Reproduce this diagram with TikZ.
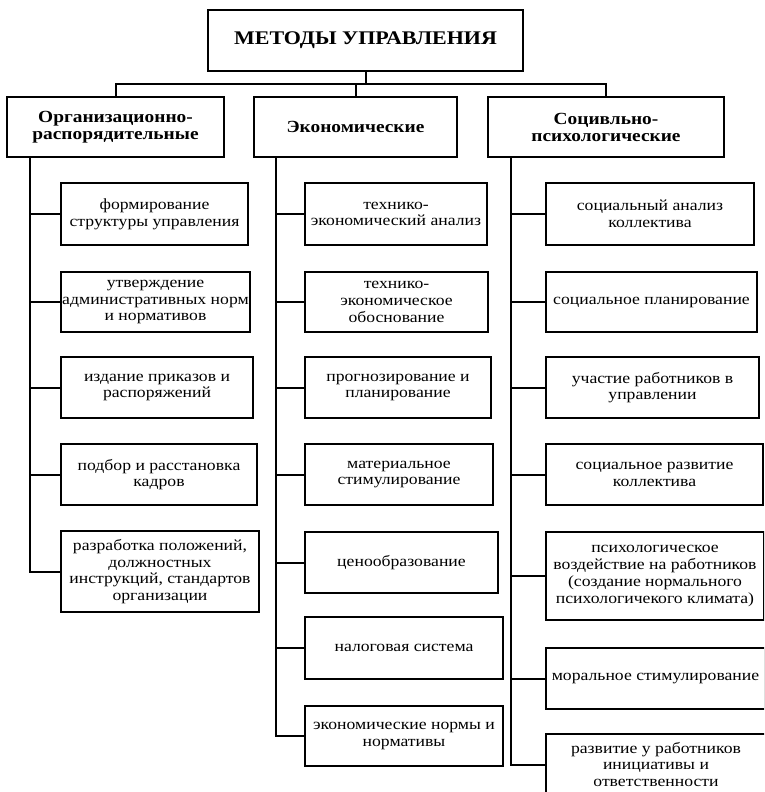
\documentclass[tikz,border=0pt]{standalone}
\usepackage{fontspec}
\setmainfont[FakeStretch=1.14]{Liberation Serif}
\begin{document}
\begin{tikzpicture}[x=1pt,y=-1pt,
  box/.style={draw=black,line width=2pt,rectangle,inner sep=0pt,align=center,
    font=\fontsize{15.5}{16.7}\selectfont},
  headbox/.style={box,font=\fontsize{17}{17}\selectfont\bfseries},
  titlebox/.style={box,font=\fontsize{19.3}{20}\selectfont\bfseries},
  link/.style={draw=black,line width=2pt},
  bw/.style 2 args={minimum width=#1,minimum height=#2}]
\useasboundingbox (0,0) rectangle (764,792);
\clip (0,0) rectangle (764,792);
\fill[white] (0,0) rectangle (764,792);

% top
\node[titlebox,bw={315}{61}] (T) at (365.5,40.5) {МЕТОДЫ УПРАВЛЕНИЯ};
% level 2
\node[headbox,bw={217}{60}] (L) at (115.5,127) {Организационно-\\распорядительные};
\node[headbox,bw={203}{60}] (M) at (355.5,127) {Экономические};
\node[headbox,bw={236}{60}] (R) at (606,127) {Социвльно-\\психологические};

\coordinate (bus) at (0,84);
\draw[link] (T.south) -- (T.south |- bus);
\draw[link] (L.north) |- (R.north |- bus) -- (R.north);
\draw[link] (M.north) -- (M.north |- bus);

% left column
\node[box,bw={187}{62}] (L1) at (154.5,214) {формирование\\структуры управления};
\node[box,bw={189}{60}] (L2) at (155.5,302) {утверждение\\административных норм\\и нормативов};
\node[box,bw={192}{61}] (L3) at (157,387.5) {издание приказов и\\распоряжений};
\node[box,bw={196}{61}] (L4) at (159,474.5) {подбор и расстановка\\кадров};
\node[box,bw={198}{81}] (L5) at (160,571.5) {разработка положений,\\должностных\\инструкций, стандартов\\организации};

\coordinate (Lt) at ([xshift=24pt]L.south west);
\draw[link] (Lt) |- (L5.west);
\foreach \n in {L1,L2,L3,L4} \draw[link] (\n.west) -- (\n.west -| Lt);

% middle column
\node[box,bw={182}{62}] (M1) at (396,214) {технико-\\экономический анализ};
\node[box,bw={183}{60}] (M2) at (396.5,302) {технико-\\экономическое\\обоснование};
\node[box,bw={186}{61}] (M3) at (398,387.5) {прогнозирование и\\планирование};
\node[box,bw={188}{61}] (M4) at (399,474.5) {материальное\\стимулирование};
\node[box,bw={193}{61}] (M5) at (401.5,562.5) {ценообразование};
\node[box,bw={198}{62}] (M6) at (404,648) {налоговая система};
\node[box,bw={198}{60}] (M7) at (404,736) {экономические нормы и\\нормативы};

\coordinate (Mt) at ([xshift=23pt]M.south west);
\draw[link] (Mt) |- (M7.west);
\foreach \n in {M1,M2,M3,M4,M5,M6} \draw[link] (\n.west) -- (\n.west -| Mt);

% right column
\node[box,bw={208}{62}] (R1) at (650,214) {социальный анализ\\коллектива};
\node[box,bw={211}{60}] (R2) at (651.5,302) {социальное планирование};
\node[box,bw={213}{61}] (R3) at (652.5,387.5) {участие работников в\\управлении};
\node[box,bw={217}{61}] (R4) at (654.5,474.5) {социальное развитие\\коллектива};
\node[box,bw={218}{88}] (R5) at (655,576) {психологическое\\воздействие на работников\\(создание нормального\\психологичекого климата)};
\node[box,bw={219}{61}] (R6) at (655.5,678.5) {моральное стимулирование};
\node[box,bw={220}{61}] (R7) at (656,764.5) {развитие у работников\\инициативы и\\ответственности};

\coordinate (Rt) at ([xshift=24pt]R.south west);
\draw[link] (Rt) |- (R7.west);
\foreach \n in {R1,R2,R3,R4,R5,R6} \draw[link] (\n.west) -- (\n.west -| Rt);
\end{tikzpicture}
\end{document}
